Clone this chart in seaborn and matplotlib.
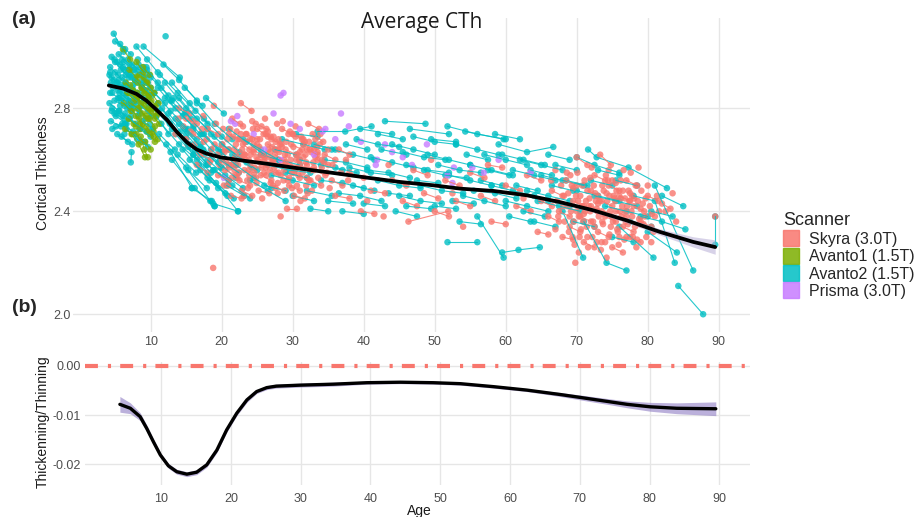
import numpy as np
import pandas as pd
import matplotlib
matplotlib.use("Agg")
import matplotlib.pyplot as plt
import seaborn as sns
from matplotlib.lines import Line2D

sns.set_theme(style="whitegrid")
plt.rcParams['font.family'] = ['Liberation Sans', 'DejaVu Sans']

# ---------------- categories ----------------
scanners = ["Skyra (3.0T)", "Avanto1 (1.5T)", "Avanto2 (1.5T)", "Prisma (3.0T)"]
scanner_colors = ["#F8766D", "#7CAE00", "#00BFC4", "#C77CFF"]

# ---------------- longitudinal subjects: (age, cortical thickness) ----------------
avanto2_child = [
    [(4.8,3.09),(6.2,3.02)], [(5.0,2.98),(6.5,2.93),(8.0,2.90)], [(4.5,2.92),(5.9,2.88)],
    [(4.3,2.86),(5.6,2.84),(7.1,2.80)], [(4.6,2.80),(6.0,2.77)], [(4.4,2.75),(5.8,2.73)],
    [(5.2,2.90),(6.7,2.86),(8.1,2.83)], [(5.5,3.01),(7.0,2.97)], [(5.8,2.95),(7.3,2.92),(8.8,2.88)],
    [(6.1,2.84),(7.6,2.80)], [(6.4,2.78),(7.9,2.74),(9.4,2.71)], [(4.9,2.83),(6.3,2.81)],
    [(5.3,2.70),(6.8,2.67)], [(6.8,2.99),(8.3,2.95)], [(7.2,2.93),(8.7,2.89),(10.2,2.85)],
    [(7.5,2.87),(9.0,2.83)], [(7.0,2.76),(8.5,2.72),(10.0,2.69)], [(8.0,3.04),(9.5,2.99),(11.0,2.94)],
    [(8.3,2.97),(9.8,2.93)], [(8.6,2.81),(10.1,2.77)], [(9.0,2.90),(10.5,2.86),(12.0,2.82)],
    [(4.7,2.88),(6.1,2.86),(7.6,2.82)], [(5.1,2.77),(6.6,2.74)], [(5.6,2.86),(7.0,2.83)],
    [(6.0,2.92),(7.4,2.88)], [(6.6,2.72),(8.1,2.68),(9.6,2.65)], [(7.3,2.63),(7.2,2.59)],
    [(4.5,3.00),(5.7,2.97)], [(5.7,3.05),(7.2,3.01)], [(6.2,2.98),(7.7,2.95),(9.2,2.92)],
    [(7.8,2.91),(9.3,2.87)], [(9.5,2.95),(11.0,2.90),(12.5,2.85)], [(12.1,3.08)],
    [(4.2,2.82),(5.5,2.79)], [(6.9,2.83),(8.4,2.79)], [(8.8,2.75),(10.3,2.72)],
    [(5.9,2.69),(7.4,2.66)], [(9.6,2.82),(11.1,2.79)], [(7.7,2.70),(9.2,2.67)],
    [(10.0,2.92),(11.5,2.88),(13.0,2.83)], [(4.3,2.96),(5.4,2.93)], [(5.4,2.84),(6.9,2.81)],
    [(6.5,2.89),(8.0,2.86)], [(4.6,2.72),(6.4,2.74)], [(5.0,3.06),(6.4,3.03)],
    [(4.4,2.90),(5.7,2.88)], [(5.0,2.94),(6.4,2.90)], [(5.6,2.79),(7.0,2.76)],
    [(6.3,2.95),(7.8,2.91)], [(4.9,2.78),(6.3,2.76)], [(6.7,2.80),(8.2,2.77)],
    [(5.3,2.98),(6.8,2.95)], [(7.4,2.97),(8.9,2.94)], [(4.2,2.93),(5.3,2.90)],
    [(6.0,2.74),(7.5,2.71)], [(8.1,2.86),(9.6,2.83)], [(5.8,2.89),(7.3,2.86)],
]
avanto2_child_single_age = [
    4.3, 4.6, 4.9, 5.2, 5.5, 5.8, 6.1, 6.4, 6.7, 7.0, 7.3, 7.6, 7.9, 8.2, 8.5, 8.8, 9.1, 9.4,
    9.7, 10.0, 4.5, 4.8, 5.1, 5.4, 5.7, 6.0, 6.3, 6.6, 6.9, 7.2, 7.5, 7.8, 8.1, 8.4, 8.7, 9.0,
    9.3, 9.6, 9.9, 10.3,
]
avanto2_child_single_cth = [
    2.94, 2.86, 2.99, 2.78, 2.91, 2.83, 2.96, 2.74, 2.88, 2.93, 2.80, 2.95, 2.85, 2.99, 2.78,
    2.91, 2.84, 2.96, 2.80, 2.88, 2.79, 2.91, 2.73, 2.87, 2.81, 2.99, 2.70, 2.85, 2.92, 2.77,
    2.89, 2.82, 2.93, 2.72, 2.86, 2.96, 2.76, 2.90, 2.74, 2.80,
]
avanto2_teen = [
    [(9.0,3.04),(14.1,2.92)], [(11.8,2.97),(14.0,2.91),(16.5,2.83)], [(11.0,2.88),(13.5,2.80),(16.0,2.73)],
    [(12.0,2.84),(14.5,2.77),(17.0,2.70)], [(10.5,2.80),(13.0,2.72),(15.5,2.66)],
    [(12.5,2.78),(15.0,2.70),(17.5,2.62)], [(13.0,2.90),(15.5,2.82),(18.0,2.74)],
    [(11.5,2.74),(14.0,2.66),(16.5,2.60)], [(13.5,2.70),(16.0,2.62),(18.5,2.55)],
    [(14.0,2.84),(16.5,2.76),(19.0,2.69)], [(10.2,2.72),(12.8,2.63),(15.8,2.49)],
    [(14.5,2.64),(17.0,2.56),(19.5,2.49)], [(15.0,2.78),(17.5,2.70),(20.0,2.63)],
    [(12.2,2.66),(15.0,2.57),(18.4,2.44)], [(16.0,2.72),(18.5,2.64),(21.0,2.58)],
    [(15.5,2.60),(18.0,2.53),(20.5,2.47)], [(16.5,2.82),(19.0,2.74),(21.5,2.68)],
    [(17.0,2.66),(19.5,2.59),(22.0,2.53)], [(13.0,2.60),(16.2,2.49),(19.0,2.42)],
    [(17.5,2.76),(20.0,2.69),(22.5,2.63)], [(18.0,2.60),(20.5,2.54),(23.0,2.49)],
    [(11.0,2.82),(16.0,2.62),(22.3,2.40)], [(18.5,2.70),(21.0,2.64),(23.5,2.59)],
    [(19.0,2.56),(21.5,2.50),(24.0,2.45)], [(14.0,2.74),(17.0,2.65),(20.0,2.57)],
    [(20.0,2.66),(22.5,2.61),(25.0,2.56)], [(12.0,2.90),(15.0,2.80),(18.0,2.72)],
    [(15.0,2.68),(18.0,2.58),(21.0,2.52)], [(13.5,2.76),(16.5,2.68)], [(10.8,2.77),(12.5,2.70)],
    [(21.0,2.72),(23.5,2.67),(26.0,2.62)], [(22.0,2.58),(24.5,2.53),(27.0,2.49)],
    [(19.5,2.64),(22.0,2.58)], [(16.8,2.58),(19.2,2.51),(21.7,2.45)],
    [(23.0,2.68),(25.5,2.64),(28.0,2.60)], [(24.0,2.52),(26.5,2.48),(29.0,2.44)],
    [(12.8,2.83),(14.8,2.78)], [(17.8,2.84),(20.3,2.78)], [(11.3,2.93),(13.8,2.86),(16.3,2.79)],
    [(14.8,2.88),(17.3,2.81)], [(18.8,2.43),(22.3,2.40)], [(15.8,2.49),(18.6,2.44),(19.0,2.42)],
    [(10.5,2.86),(12.8,2.79),(15.2,2.72)], [(11.2,2.70),(13.4,2.64)],
    [(12.7,2.74),(15.3,2.65),(17.8,2.58)], [(13.8,2.62),(16.4,2.55)],
    [(14.9,2.72),(17.4,2.64),(19.9,2.57)], [(16.2,2.64),(18.8,2.56)], [(17.3,2.70),(19.8,2.63)],
    [(18.3,2.52),(20.8,2.46)], [(19.8,2.60),(22.4,2.55)], [(20.7,2.50),(23.2,2.46)],
    [(13.2,2.84),(15.7,2.76)], [(11.6,2.80),(14.2,2.71)], [(21.5,2.62),(24.2,2.57)],
    [(15.3,2.56),(17.9,2.49)],
]
avanto2_adult = [
    [(25.5,2.62),(28.0,2.60),(31.0,2.58)], [(27.0,2.54),(30.0,2.52),(33.0,2.50)],
    [(28.5,2.68),(31.5,2.66),(34.5,2.64)], [(30.0,2.46),(33.0,2.44)],
    [(31.0,2.60),(34.0,2.58),(37.0,2.56)], [(32.5,2.41),(35.0,2.40)],
    [(33.5,2.71),(37.4,2.71),(41.1,2.73)], [(34.0,2.52),(37.0,2.51),(40.0,2.49)],
    [(35.5,2.64),(38.5,2.62),(41.5,2.60)], [(36.5,2.47),(39.5,2.46),(42.5,2.44)],
    [(38.0,2.57),(41.0,2.55),(44.0,2.54)], [(39.0,2.68),(42.0,2.66),(45.0,2.65)],
    [(40.0,2.43),(43.0,2.42)], [(41.0,2.61),(44.0,2.59),(47.0,2.57)],
    [(43.0,2.75),(48.7,2.74)], [(42.0,2.52),(45.0,2.50),(48.0,2.49)],
    [(44.0,2.66),(47.0,2.64),(50.0,2.62)], [(45.0,2.46),(48.0,2.44),(51.0,2.43)],
    [(46.0,2.58),(49.0,2.56),(52.0,2.55)], [(47.0,2.69),(50.0,2.67),(53.0,2.66)],
    [(48.0,2.50),(51.0,2.48),(54.0,2.47)], [(49.0,2.62),(52.0,2.60),(55.0,2.58)],
    [(50.0,2.42),(53.0,2.41)], [(51.8,2.73),(56.0,2.70),(60.0,2.68)],
    [(51.8,2.28),(56.0,2.28)], [(52.0,2.54),(55.0,2.52),(58.0,2.50)],
    [(53.0,2.66),(56.0,2.64),(59.0,2.62)], [(54.0,2.46),(57.0,2.44),(60.0,2.42)],
    [(54.3,2.71),(59.7,2.68)], [(55.0,2.58),(58.0,2.56),(61.0,2.54)],
    [(56.0,2.38),(59.7,2.22)], [(57.0,2.62),(60.0,2.60),(63.0,2.58)],
    [(58.0,2.50),(61.0,2.48),(64.0,2.46)], [(59.0,2.66),(63.0,2.63),(66.7,2.65)],
    [(60.0,2.44),(63.0,2.42),(66.0,2.40)], [(61.0,2.56),(64.0,2.54),(67.0,2.52)],
    [(59.5,2.24),(61.8,2.25),(64.8,2.26)], [(62.0,2.60),(65.0,2.58),(68.0,2.56)],
    [(63.0,2.48),(66.0,2.46),(69.0,2.44)], [(64.0,2.36),(67.0,2.34)],
    [(65.0,2.54),(68.0,2.52),(71.0,2.50)], [(66.0,2.44),(69.0,2.42)],
    [(67.0,2.58),(70.0,2.56)], [(71.6,2.64),(72.8,2.61),(77.3,2.57),(82.7,2.49)],
    [(68.0,2.40),(70.9,2.22)], [(70.0,2.48),(73.0,2.46),(76.0,2.44)],
    [(71.0,2.36),(74.2,2.20),(77.0,2.17)], [(72.0,2.52),(75.0,2.50)],
    [(74.0,2.42),(77.0,2.40),(80.0,2.38)], [(76.0,2.34),(80.8,2.22)],
    [(78.0,2.46),(81.0,2.44),(83.8,2.20)], [(79.0,2.38),(82.0,2.36),(85.3,2.33)],
    [(80.0,2.32),(84.1,2.24)], [(84.3,2.11),(87.8,2.00)], [(81.0,2.50),(86.4,2.17)],
    [(89.5,2.38),(89.5,2.27)], [(26.0,2.50),(29.0,2.48)], [(29.0,2.55),(32.0,2.53)],
    [(37.0,2.40),(40.0,2.39)], [(44.5,2.40),(47.5,2.38)], [(33.0,2.66),(36.0,2.64)],
    [(48.5,2.56),(51.5,2.54),(54.5,2.53)], [(56.5,2.52),(59.5,2.50)], [(62.5,2.40),(65.5,2.38)],
    [(66.5,2.50),(69.5,2.48)], [(73.0,2.56),(76.0,2.54)], [(75.0,2.30),(78.0,2.28)],
    [(82.0,2.46),(85.0,2.42)], [(58.5,2.70),(62.0,2.68)], [(39.5,2.72),(44.0,2.70)],
    [(46.5,2.72),(52.0,2.70)], [(36.0,2.57),(39.0,2.55)], [(42.5,2.64),(46.0,2.62)],
    [(60.5,2.38),(63.5,2.36)], [(70.0,2.61),(72.5,2.58),(76.0,2.55)],
    [(26.5,2.58),(29.5,2.56),(32.5,2.55)], [(27.5,2.64),(30.5,2.62)], [(30.5,2.70),(33.5,2.69)],
    [(32.0,2.48),(35.5,2.46)], [(34.5,2.60),(37.5,2.59),(40.5,2.57)], [(37.5,2.66),(40.5,2.64)],
    [(38.5,2.50),(41.5,2.48)], [(40.5,2.56),(43.5,2.55),(46.5,2.53)], [(42.0,2.70),(45.5,2.68)],
    [(43.5,2.47),(46.5,2.46)], [(45.5,2.63),(48.5,2.61),(51.5,2.60)], [(47.5,2.52),(50.5,2.51)],
    [(49.5,2.68),(53.0,2.67)], [(50.5,2.58),(53.5,2.56),(56.5,2.55)], [(52.5,2.44),(55.5,2.43)],
    [(54.5,2.62),(57.5,2.60)], [(55.5,2.48),(58.5,2.47),(61.5,2.45)], [(57.5,2.56),(60.5,2.54)],
    [(59.5,2.62),(62.5,2.60),(65.5,2.58)], [(61.5,2.50),(64.5,2.48)], [(63.5,2.56),(66.5,2.54)],
    [(64.5,2.44),(67.5,2.42),(70.5,2.40)], [(66.0,2.62),(69.0,2.60)], [(68.5,2.52),(71.5,2.50)],
    [(69.5,2.36),(72.5,2.34)], [(72.5,2.46),(75.5,2.44),(78.5,2.42)], [(75.5,2.52),(78.5,2.50)],
    [(77.5,2.36),(80.5,2.34)], [(80.5,2.40),(83.5,2.38)], [(53.5,2.36),(56.5,2.35)],
    [(46.0,2.42),(49.5,2.41)], [(35.0,2.44),(38.5,2.43)],
]
avanto1_child = [
    [(6.5,2.90),(7.5,2.87)], [(7.0,2.95),(8.0,2.92)], [(7.6,2.85),(8.6,2.82),(9.6,2.79)],
    [(8.0,2.98),(9.0,2.94)], [(8.3,2.80),(9.3,2.77)], [(8.7,2.88),(9.7,2.85),(10.7,2.81)],
    [(6.9,2.76),(7.9,2.73)], [(7.3,2.70),(8.3,2.66),(9.2,2.61)], [(9.0,2.92),(10.0,2.88)],
    [(9.4,2.73),(10.4,2.69)], [(6.2,2.82),(7.2,2.79)], [(7.8,2.91),(8.8,2.88),(9.8,2.85)],
    [(8.5,2.74),(9.5,2.71)], [(9.8,2.80),(10.8,2.77)], [(6.7,2.86),(7.7,2.83)],
    [(8.1,2.84),(9.1,2.81),(10.1,2.78)], [(9.2,2.67),(10.0,2.64)], [(7.4,2.79),(8.4,2.76)],
    [(10.1,2.86),(11.1,2.82)], [(8.9,2.96),(9.9,2.93)], [(7.1,2.89),(8.1,2.86)],
    [(9.6,2.76),(10.6,2.73)], [(6.4,2.72),(7.4,2.70)], [(10.4,2.71),(11.0,2.68)],
    [(8.6,2.69),(9.1,2.64),(9.6,2.61)], [(6.1,3.03),(7.1,2.99)], [(8.2,2.90),(9.2,2.87)],
    [(7.9,2.77),(8.9,2.74)], [(9.3,2.83),(10.3,2.80)], [(10.6,2.76),(11.2,2.74)],
    [(7.2,2.82),(8.2,2.80)], [(8.4,2.93),(9.4,2.90)], [(9.1,2.86),(10.1,2.83)],
    [(7.6,2.74),(8.6,2.72)], [(9.9,2.70),(10.6,2.67)], [(8.8,2.78),(9.8,2.76)],
    [(7.0,2.86),(8.0,2.84)], [(9.5,2.90),(10.5,2.86)], [(8.0,2.70),(8.7,2.67)],
    [(10.2,2.80),(11.0,2.78)],
]
skyra_young = [
    [(21.0,2.70),(22.5,2.68)], [(22.0,2.62),(23.4,2.60)], [(23.0,2.66),(24.5,2.63)],
    [(24.0,2.58),(25.6,2.57)], [(25.0,2.72),(26.5,2.69)], [(26.0,2.60),(27.5,2.58)],
    [(27.0,2.68),(28.4,2.66)], [(28.0,2.55),(29.5,2.53)], [(29.0,2.64),(30.5,2.62)],
    [(30.0,2.70),(31.5,2.68)], [(31.0,2.58),(32.5,2.56)], [(32.0,2.64),(33.5,2.62)],
    [(20.5,2.56),(22.0,2.54)], [(21.5,2.76),(23.0,2.73)], [(22.5,2.52),(24.0,2.50)],
    [(23.5,2.70),(25.0,2.68)], [(24.5,2.64),(26.0,2.61)], [(25.5,2.54),(27.0,2.52)],
    [(26.5,2.66),(28.0,2.64)], [(27.5,2.62),(29.0,2.59)], [(28.5,2.72),(30.0,2.70)],
    [(29.5,2.50),(31.0,2.48)], [(30.5,2.60),(32.0,2.58)], [(31.5,2.66),(33.0,2.64)],
    [(32.5,2.52),(34.0,2.50)], [(33.5,2.60),(35.0,2.58)], [(19.0,2.66),(20.5,2.64)],
    [(18.0,2.72),(19.5,2.70)], [(17.0,2.62),(18.5,2.60)], [(16.0,2.70),(17.5,2.67)],
    [(15.0,2.76),(16.5,2.74)], [(14.0,2.80),(15.5,2.78)],
    [(22.7,2.82),(24.2,2.79)], [(29.2,2.41),(30.6,2.41)],
    [(20.0,2.60),(21.2,2.58)], [(23.2,2.56),(24.6,2.55)], [(26.2,2.70),(27.6,2.67)],
    [(27.2,2.50),(28.8,2.48)], [(24.8,2.74),(26.3,2.72)], [(21.8,2.64),(23.3,2.62)],
    [(28.8,2.60),(30.3,2.57)], [(30.8,2.54),(32.3,2.52)], [(32.8,2.70),(34.3,2.67)],
    [(25.8,2.62),(27.2,2.60)], [(22.8,2.48),(24.3,2.46)], [(26.8,2.56),(28.3,2.54)],
    [(29.8,2.66),(31.3,2.64)], [(19.5,2.54),(21.0,2.52)], [(33.0,2.56),(34.6,2.54)],
    [(34.5,2.62),(36.0,2.60)], [(35.5,2.52),(37.0,2.50)],
    [(16.5,2.58),(18.0,2.55)], [(13.5,2.70),(15.0,2.68)], [(21.3,2.46),(22.8,2.45)],
    [(30.2,2.46),(31.7,2.45)], [(25.2,2.48),(26.7,2.47)], [(32.2,2.74),(33.7,2.72)],
    [(36.5,2.64),(38.0,2.62)],
]
skyra_young_single_age = [
    18.9, 18.8, 28.3, 24.3, 27.8, 31.8, 20.8, 23.8, 26.6, 29.4, 22.3, 25.3, 28.1, 30.7, 23.6,
    27.4, 31.2, 20.2, 33.8, 26.9, 29.9, 24.9, 21.7, 32.9, 20.4, 21.1, 21.6, 22.1, 22.4, 22.9,
    23.3, 23.7, 24.1, 24.6, 25.0, 25.4, 25.9, 26.3, 26.7, 27.1, 27.6, 28.0, 28.4, 28.9, 29.3,
    29.7, 30.1, 30.6, 31.0, 31.4, 31.9, 32.3, 32.7, 33.2, 33.6, 34.1, 22.6, 24.4, 26.1, 28.6,
    30.4, 23.1, 25.7, 27.9, 31.1, 19.7, 18.6, 17.9, 20.9, 24.8, 26.9, 29.1, 30.9, 32.5, 21.9,
    23.9, 25.6, 27.3, 28.7, 30.3, 32.0, 33.4, 34.8, 35.6, 19.2, 17.4, 16.2, 15.6, 22.0, 26.4,
    29.6, 31.7, 24.0, 27.7, 21.4, 33.9, 35.2, 36.8, 37.8,
    20.1, 20.6, 21.2, 21.8, 22.3, 22.8, 23.4, 23.9, 24.5, 25.1, 25.6, 26.2, 26.8, 27.3, 27.9,
    28.5, 29.0, 29.6, 30.2, 30.7, 31.3, 31.9, 32.4, 33.0, 33.5, 34.1, 20.3, 21.0, 21.5, 22.2,
    22.7, 23.2, 23.8, 24.3, 24.9, 25.4, 26.0, 26.5, 27.1, 27.6, 28.2, 28.8, 29.3, 29.9, 30.4,
    31.0, 31.5, 32.1, 32.6, 33.2, 34.4, 35.0, 19.4, 18.3, 17.2, 16.8, 15.9, 14.6, 13.9, 15.2,
]
skyra_young_single_cth = [
    2.81, 2.18, 2.38, 2.68, 2.74, 2.62, 2.68, 2.60, 2.64, 2.70, 2.58, 2.65, 2.63, 2.57, 2.52,
    2.57, 2.69, 2.72, 2.66, 2.51, 2.55, 2.61, 2.60, 2.59, 2.63, 2.57, 2.69, 2.71, 2.55, 2.64,
    2.67, 2.49, 2.62, 2.57, 2.66, 2.59, 2.70, 2.54, 2.61, 2.65, 2.55, 2.68, 2.58, 2.62, 2.52,
    2.60, 2.65, 2.50, 2.63, 2.55, 2.59, 2.67, 2.48, 2.61, 2.53, 2.57, 2.74, 2.72, 2.76, 2.75,
    2.73, 2.46, 2.45, 2.47, 2.44, 2.58, 2.64, 2.68, 2.50, 2.53, 2.69, 2.67, 2.60, 2.56, 2.61,
    2.64, 2.62, 2.60, 2.52, 2.56, 2.53, 2.65, 2.55, 2.58, 2.74, 2.77, 2.66, 2.71, 2.66, 2.58,
    2.58, 2.67, 2.68, 2.64, 2.53, 2.70, 2.49, 2.55, 2.52,
    2.66, 2.59, 2.72, 2.56, 2.68, 2.61, 2.70, 2.54, 2.66, 2.60, 2.73, 2.57, 2.63, 2.69, 2.51,
    2.65, 2.58, 2.71, 2.55, 2.62, 2.68, 2.50, 2.64, 2.57, 2.63, 2.60, 2.50, 2.64, 2.58, 2.53,
    2.70, 2.62, 2.56, 2.75, 2.51, 2.68, 2.55, 2.71, 2.59, 2.49, 2.66, 2.56, 2.62, 2.49, 2.69,
    2.53, 2.61, 2.47, 2.63, 2.68, 2.59, 2.64, 2.62, 2.59, 2.72, 2.63, 2.75, 2.73, 2.76, 2.66,
]
skyra_mid = [
    [(38.0,2.55),(40.0,2.53)], [(39.6,2.40),(41.5,2.39)], [(42.8,2.38)],
    [(41.0,2.48),(43.0,2.47)], [(44.0,2.52),(46.0,2.50)], [(45.5,2.44),(47.5,2.42)],
    [(47.0,2.56),(49.0,2.54)], [(48.5,2.47),(50.5,2.45)], [(50.0,2.40),(52.0,2.38)],
    [(51.5,2.52),(53.5,2.50)], [(46.3,2.36),(51.9,2.40)], [(53.0,2.44),(55.0,2.42)],
    [(55.0,2.55),(57.0,2.53)], [(56.5,2.46),(58.5,2.44)], [(58.0,2.36),(60.0,2.35)],
    [(60.0,2.50),(62.0,2.48)], [(61.5,2.42),(63.5,2.40)], [(63.0,2.54),(65.0,2.52)],
    [(64.5,2.32),(66.0,2.31)], [(36.0,2.46),(38.0,2.45)], [(37.5,2.60)], [(43.5,2.58)],
    [(49.5,2.60)], [(57.5,2.58),(59.5,2.57)], [(40.5,2.44)], [(54.0,2.34)], [(62.5,2.45)],
    [(52.5,2.47)],
]
skyra_old = [
    [(66.5,2.48),(68.0,2.46)], [(67.5,2.40),(69.0,2.38)], [(68.5,2.52),(70.0,2.50)],
    [(69.0,2.34),(70.5,2.32)], [(69.5,2.44),(71.0,2.42)], [(70.0,2.61),(71.5,2.58)],
    [(70.5,2.38),(72.0,2.36)], [(71.0,2.28),(72.5,2.26)], [(71.5,2.48),(73.0,2.46)],
    [(72.0,2.42),(73.5,2.40)], [(72.5,2.54),(74.0,2.52)], [(73.0,2.32),(74.5,2.30)],
    [(73.5,2.44),(75.0,2.42)], [(74.0,2.38),(75.5,2.36)], [(74.5,2.50),(76.0,2.48)],
    [(75.0,2.26),(76.5,2.24)], [(75.5,2.40),(77.0,2.38)], [(76.0,2.46),(77.5,2.44)],
    [(76.5,2.34),(78.0,2.32)], [(77.0,2.52),(78.5,2.50)], [(77.5,2.30),(79.0,2.28)],
    [(78.0,2.42),(79.5,2.40)], [(79.0,2.36),(80.5,2.34)], [(80.0,2.46),(81.5,2.44)],
    [(68.0,2.30),(69.5,2.29)], [(73.3,2.62),(74.8,2.58)], [(66.0,2.38),(67.5,2.36)],
    [(82.0,2.43),(83.2,2.41)], [(65.0,2.44),(66.5,2.42)],
]
skyra_old_single_age = [
    78.7, 69.8, 74.2, 67.0, 70.8, 72.3, 75.8, 76.8, 71.8, 73.8, 69.2, 77.8, 79.8, 81.0, 89.5,
    70.2, 72.8, 74.8, 76.2, 78.4, 84.0, 71.2, 72.6, 73.9, 75.3, 70.6, 76.7, 68.8, 74.5, 77.2,
    79.3, 67.2, 67.8, 68.3, 68.7, 69.1, 69.4, 69.9, 70.3, 70.7, 71.1, 71.4, 71.9, 72.2, 72.7,
    73.1, 73.6, 74.0, 74.3, 74.7, 75.1, 75.6, 76.0, 76.4, 76.9, 77.3, 77.7, 78.2, 78.6, 79.1,
    79.6, 80.3, 80.8, 81.3, 70.1, 72.1, 74.1, 76.6, 71.6, 73.4, 75.9, 77.9, 68.2, 70.4, 72.4,
    73.7, 75.4, 77.1, 78.9, 69.6, 71.3, 74.6, 76.3, 78.3, 80.6, 82.5, 83.5, 66.4, 67.0,
    67.4, 68.1, 68.9, 69.3, 69.7, 70.0, 70.5, 70.9, 71.5, 71.7, 72.0, 72.5, 72.9, 73.2, 73.5,
    74.4, 74.9, 75.2, 75.7, 76.1, 76.5, 77.0, 77.4, 77.8, 78.1, 78.5, 79.0, 79.4, 80.0, 80.5,
    81.6, 68.6, 69.5, 70.8, 71.9, 73.0, 74.2, 75.5, 76.8, 77.6, 78.8, 79.7, 71.0, 72.8, 74.6,
    76.2, 70.3, 73.6, 75.0, 77.5,
]
skyra_old_single_cth = [
    2.57, 2.20, 2.22, 2.56, 2.50, 2.36, 2.32, 2.40, 2.45, 2.48, 2.40, 2.46, 2.30, 2.38, 2.38,
    2.44, 2.28, 2.34, 2.52, 2.26, 2.36, 2.40, 2.47, 2.39, 2.45, 2.33, 2.29, 2.47, 2.56, 2.35,
    2.43, 2.44, 2.50, 2.36, 2.42, 2.54, 2.30, 2.46, 2.38, 2.42, 2.52, 2.34, 2.40, 2.30, 2.44,
    2.38, 2.50, 2.28, 2.44, 2.40, 2.36, 2.48, 2.30, 2.42, 2.36, 2.48, 2.40, 2.34, 2.44, 2.48,
    2.38, 2.42, 2.32, 2.46, 2.55, 2.57, 2.54, 2.56, 2.26, 2.25, 2.27, 2.30, 2.46, 2.30, 2.50,
    2.35, 2.44, 2.42, 2.35, 2.36, 2.44, 2.46, 2.38, 2.50, 2.39, 2.40, 2.47, 2.52, 2.33,
    2.38, 2.42, 2.32, 2.50, 2.27, 2.40, 2.46, 2.36, 2.30, 2.42, 2.48, 2.34, 2.40, 2.44, 2.28,
    2.52, 2.38, 2.46, 2.33, 2.40, 2.48, 2.30, 2.44, 2.38, 2.45, 2.29, 2.41, 2.35, 2.50, 2.28,
    2.40, 2.55, 2.49, 2.42, 2.53, 2.43, 2.47, 2.51, 2.45, 2.55, 2.37, 2.45, 2.39, 2.41, 2.31,
    2.45, 2.24, 2.36, 2.52, 2.47,
]
prisma_all = [
    [(22.2,2.77)], [(20.3,2.53)], [(21.3,2.75),(21.9,2.74)], [(27.3,2.78)],
    [(28.3,2.85),(28.7,2.86)], [(36.8,2.78)], [(37.9,2.73)], [(34.2,2.71),(34.6,2.72)],
    [(39.6,2.67)], [(41.9,2.60)], [(29.7,2.74)], [(28.3,2.60)], [(46.8,2.58)],
    [(41.7,2.58)], [(48.9,2.66)], [(52.7,2.57)], [(55.3,2.57)], [(56.9,2.55)],
    [(63.5,2.55)], [(51.8,2.54)], [(52.5,2.51)], [(24.5,2.70)], [(31.0,2.72)],
    [(33.0,2.62)], [(44.0,2.63)], [(26.0,2.64)], [(43.0,2.66)], [(45.5,2.61)],
    [(59.0,2.60)], [(36.0,2.68)],
]

# ---------------- fitted trajectory (panel a) ----------------
fit_age = [4.1, 6.1, 8.0, 9.4, 10.6, 12.3, 13.7, 15.1, 16.5, 17.9, 19.8, 22.4, 26.3, 31.0,
           35.7, 40.4, 45.1, 49.8, 53.6, 58.3, 63.0, 67.6, 72.3, 77.0, 81.7, 86.4, 89.5]
fit_cth = [2.889, 2.877, 2.856, 2.830, 2.800, 2.755, 2.708, 2.668, 2.640, 2.624, 2.610,
           2.599, 2.585, 2.566, 2.549, 2.531, 2.514, 2.501, 2.488, 2.479, 2.462, 2.436,
           2.404, 2.365, 2.320, 2.281, 2.261]
fit_ci = [0.008, 0.006, 0.005, 0.004, 0.004, 0.004, 0.004, 0.004, 0.004, 0.004, 0.004,
          0.004, 0.004, 0.004, 0.004, 0.004, 0.004, 0.004, 0.004, 0.005, 0.005, 0.006,
          0.007, 0.009, 0.012, 0.020, 0.028]

# ---------------- derivative (panel b) ----------------
der_age = [4.1, 5.6, 7.0, 7.95, 8.9, 9.9, 11.05, 12.25, 13.7, 15.1, 16.55, 18.0, 19.4,
           20.85, 22.3, 23.7, 25.15, 26.5, 29.9, 34.7, 39.5, 44.3, 49.0, 52.9, 57.6, 62.4,
           67.2, 70.1, 74.4, 76.8, 80.1, 83.9, 89.5]
der_val = [-0.0078, -0.0086, -0.0103, -0.0127, -0.0154, -0.0181, -0.0203, -0.0215, -0.0220,
           -0.0216, -0.0201, -0.0171, -0.0130, -0.0096, -0.0069, -0.0052, -0.0044, -0.0041,
           -0.0039, -0.0037, -0.0034, -0.0033, -0.0034, -0.0036, -0.0042, -0.0049, -0.0058,
           -0.0064, -0.0073, -0.0078, -0.0083, -0.0086, -0.0087]
der_ci = [0.0016, 0.0011, 0.0008, 0.0007, 0.0006, 0.0005, 0.0005, 0.0005, 0.0005, 0.0005,
          0.0005, 0.0005, 0.0005, 0.0005, 0.0005, 0.0004, 0.0004, 0.0004, 0.0004, 0.0004,
          0.0003, 0.0003, 0.0003, 0.0003, 0.0003, 0.0003, 0.0004, 0.0005, 0.0006, 0.0007,
          0.0009, 0.0011, 0.0014]

x_ticks = [10, 20, 30, 40, 50, 60, 70, 80, 90]
y_ticks_a = [2.0, 2.4, 2.8]
y_ticks_b = [-0.02, -0.01, 0.00]

# ---------------- build long table ----------------
def singles(ages, vals):
    return [[(a, c)] for a, c in zip(ages, vals)]

skyra_all = (skyra_young + skyra_mid + skyra_old
             + singles(skyra_young_single_age, skyra_young_single_cth)
             + singles(skyra_old_single_age, skyra_old_single_cth))
avanto2_all = (avanto2_child + singles(avanto2_child_single_age, avanto2_child_single_cth)
               + avanto2_teen + avanto2_adult)
groups = [
    (scanners[2], avanto2_all),
    (scanners[0], skyra_all),
    (scanners[1], avanto1_child),
    (scanners[3], prisma_all),
]
rows = []
for name, subjects in groups:
    for i, traj in enumerate(subjects):
        for a, c in traj:
            rows.append((name, f"{name}-{i}", a, c))
df = pd.DataFrame(rows, columns=["scanner", "subject", "age", "cth"])
palette = dict(zip(scanners, scanner_colors))
draw_order = [g[0] for g in groups]

fig = plt.figure(figsize=(9.18, 5.17), dpi=100)
W, H = 918, 517
ax = fig.add_axes([73 / W, 1 - 332 / H, (750 - 73) / W, (332 - 18) / H])
ax2 = fig.add_axes([85 / W, 1 - 485 / H, (750 - 85) / W, (485 - 361.7) / H])

grid_kw = dict(color="#e6e6e6", linewidth=1.0)
for a_ in (ax, ax2):
    a_.set_facecolor("white")
    for s in a_.spines.values():
        s.set_visible(False)
    a_.grid(True, **grid_kw)
    a_.set_axisbelow(True)
    a_.tick_params(axis="both", length=0, labelsize=9, labelcolor="#4d4d4d")

# panel a
sns.lineplot(data=df, x="age", y="cth", hue="scanner", units="subject", estimator=None,
             hue_order=draw_order, palette=palette, sort=True, linewidth=0.8, alpha=0.85,
             legend=False, ax=ax)
sns.scatterplot(data=df, x="age", y="cth", hue="scanner", palette=palette, s=22,
                alpha=0.8, linewidth=0, legend=False, ax=ax)
lo = np.array(fit_cth) - np.array(fit_ci)
hi = np.array(fit_cth) + np.array(fit_ci)
ax.fill_between(fit_age, lo, hi, color="#b7aed6", alpha=0.55, linewidth=0, zorder=4)
sns.lineplot(x=fit_age, y=fit_cth, color="black", linewidth=2.7, ax=ax, zorder=5)
ax.set_xlim(-0.94, 94.4)
ax.set_ylim(1.931, 3.151)
ax.set_xticks(x_ticks)
ax.set_yticks(y_ticks_a)
ax.set_yticklabels([f"{v:.1f}" for v in y_ticks_a])
ax.tick_params(axis="y", pad=2)
ax.tick_params(axis="x", pad=3)
ax.set_xlabel("")
ax.set_ylabel("")

# panel b
ax2.axhline(0, color="#F8766D", linewidth=3.0, linestyle=(0, (3.1, 2.4, 0.75, 2.2)), zorder=3)
lo2 = np.array(der_val) - np.array(der_ci)
hi2 = np.array(der_val) + np.array(der_ci)
ax2.fill_between(der_age, lo2, hi2, color="#8e7cc3", alpha=0.6, linewidth=0, zorder=4)
sns.lineplot(x=der_age, y=der_val, color="black", linewidth=2.4, ax=ax2, zorder=5)
ax2.set_xlim(-0.9, 94.4)
ax2.set_ylim(-0.0242, 0.00087)
ax2.set_xticks(x_ticks)
ax2.set_yticks(y_ticks_b)
ax2.set_yticklabels(["-0.02", "-0.01", "0.00"])
ax2.tick_params(axis="y", pad=3)
ax2.tick_params(axis="x", pad=6)
ax2.set_xlabel("")
ax2.set_ylabel("")

# texts
fig.text(43 / W, 1 - 173 / H, "Cortical Thickness", rotation=90, ha="center", va="center",
         fontsize=10, color="#1a1a1a")
fig.text(43 / W, 1 - 422 / H, "Thickenning/Thinning", rotation=90, ha="center", va="center",
         fontsize=10, color="#1a1a1a")
fig.text(419 / W, 1 - 511 / H, "Age", ha="center", va="center", fontsize=10, color="#1a1a1a")
fig.text(421.5 / W, 1 - 28 / H, "Average CTh", ha="center", va="baseline", fontsize=15,
         family=["Open Sans", "DejaVu Sans"], color="#1a1a1a")
fig.text(12 / W, 1 - 19 / H, "(a)", ha="left", va="center", fontsize=14, fontweight="bold")
fig.text(12 / W, 1 - 308 / H, "(b)", ha="left", va="center", fontsize=14, fontweight="bold")

handles = [Line2D([], [], marker="s", markersize=11, linestyle="", color=c, alpha=0.85)
           for c in scanner_colors]
leg = fig.legend(handles, scanners, title="Scanner", loc="upper left",
                 bbox_to_anchor=(777 / W, 1 - 206 / H), frameon=False, fontsize=11.5,
                 title_fontsize=13, handlelength=1.0, handletextpad=0.6, labelspacing=0.15,
                 borderaxespad=0, alignment="left")

fig.savefig("out.png", dpi=100)
